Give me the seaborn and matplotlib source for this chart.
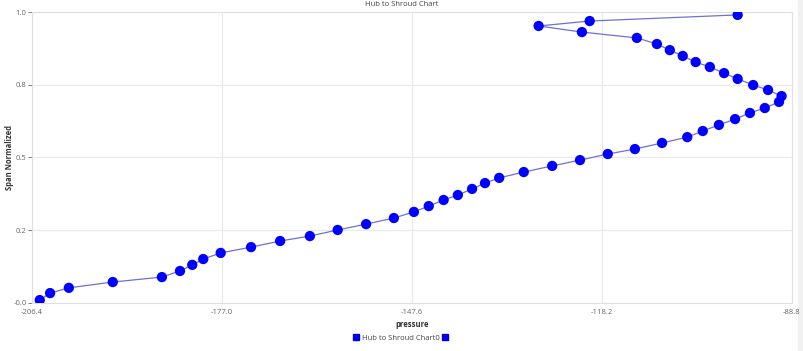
import pandas as pd
import matplotlib
matplotlib.use("Agg")
import matplotlib.pyplot as plt
from matplotlib.lines import Line2D
from matplotlib.patches import Rectangle
import seaborn as sns

# values
pressure = [-205.2, -203.6, -200.7, -193.9, -186.3, -183.5, -181.6, -179.9, -177.2, -172.5,
            -168.0, -163.4, -159.1, -154.7, -150.4, -147.3, -145.0, -142.7, -140.5, -138.3,
            -136.3, -134.1, -130.3, -125.9, -121.6, -117.3, -113.1, -108.9, -105.0, -102.6,
            -100.1, -97.6, -95.3, -93.0, -90.8, -90.4, -92.5, -94.8, -97.2, -99.3,
            -101.5, -103.7, -105.7, -107.7, -109.7, -112.8, -121.3, -128.0, -120.1, -97.2]
span = [0.010, 0.034, 0.052, 0.072, 0.089, 0.110, 0.131, 0.151, 0.172, 0.192,
        0.213, 0.230, 0.251, 0.271, 0.292, 0.313, 0.333, 0.354, 0.371, 0.392,
        0.412, 0.430, 0.450, 0.471, 0.491, 0.512, 0.529, 0.550, 0.570, 0.591,
        0.612, 0.632, 0.653, 0.670, 0.691, 0.711, 0.732, 0.749, 0.770, 0.790,
        0.811, 0.828, 0.849, 0.869, 0.890, 0.911, 0.931, 0.952, 0.969, 0.990]

x_ticks = [-206.4, -177.0, -147.6, -118.2, -88.8]
x_tick_labels = ["-206.4", "-177.0", "-147.6", "-118.2", "-88.8"]
y_ticks = [0.0, 0.25, 0.5, 0.75, 1.0]
y_tick_labels = ["-0.0", "0.2", "0.5", "0.8", "1.0"]

df = pd.DataFrame({"pressure": pressure, "span": span})

sns.set_style("white")
plt.rcParams["font.family"] = ["Open Sans", "DejaVu Sans"]

fig = plt.figure(figsize=(8.04, 3.51), dpi=100)
ax = fig.add_axes([0.0398, 0.1368, 0.9452, 0.829])

# light strip on the right edge
fig.patches.append(Rectangle((0.992, 0), 0.008, 1, transform=fig.transFigure,
                             color="#f1f1f1", zorder=-5))

sns.lineplot(data=df, x="pressure", y="span", sort=False, estimator=None,
             color="#6f6fd8", lw=0.9, ax=ax, zorder=2)
sns.scatterplot(data=df, x="pressure", y="span", color="#0000ff", s=55,
                edgecolor="none", ax=ax, zorder=3, legend=False)

ax.set_xlim(-206.4, -88.8)
ax.set_ylim(0, 1.0)
ax.set_xticks(x_ticks)
ax.set_xticklabels(x_tick_labels)
ax.set_yticks(y_ticks)
ax.set_yticklabels(y_tick_labels)
ax.grid(True, color="#e8e8e8", lw=0.8)
for s in ax.spines.values():
    s.set_color("#e0e0e0")
    s.set_linewidth(0.8)
ax.tick_params(axis="both", labelsize=5.5, colors="#666666", length=3, width=0.6,
               pad=1)
ax.tick_params(axis="y", left=True)
ax.tick_params(axis="x", bottom=False)

ax.set_xlabel("pressure", fontsize=5.5, fontweight="bold", color="#333333", labelpad=3)
ax.set_ylabel("Span Normalized", fontsize=5.5, fontweight="bold", color="#333333")
ax.yaxis.set_label_coords(-0.024, 0.5)
fig.text(0.5, 0.988, "Hub to Shroud Chart", fontsize=5.5, color="#444444",
         ha="center", va="center")

handles = [Line2D([], [], marker="s", color="none", markerfacecolor="#0000ff",
                  markeredgecolor="#0000cc", markersize=4),
           Line2D([], [], marker="s", color="none", markerfacecolor="#0000ff",
                  markeredgecolor="#0000cc", markersize=4)]
fig.legend(handles, ["Hub to Shroud Chart0", ""], loc="center",
           bbox_to_anchor=(0.5, 0.037), ncol=2, frameon=False, fontsize=5.5,
           handlelength=0.6, handletextpad=0.4, columnspacing=0.4,
           labelcolor="#444444")

fig.savefig("out.png", dpi=100)
